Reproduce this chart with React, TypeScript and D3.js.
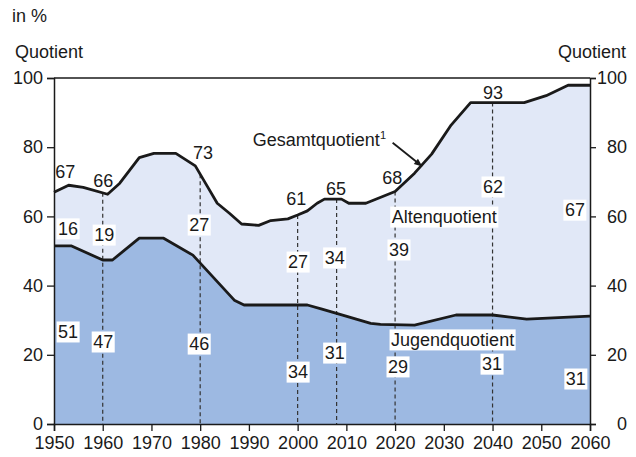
import * as d3 from "d3";
import React, { useEffect, useRef } from "react";

// Gesamtquotient (Altenquotient + Jugendquotient)
const totalYears = [1950, 1953, 1956, 1961, 1963.5, 1967.5, 1970.5, 1975, 1979, 1981.5, 1983.5, 1986, 1988.5, 1992, 1994.5, 1998, 2000, 2002, 2004, 2005.5, 2009, 2010.5, 2014, 2020, 2024, 2027.5, 2031.5, 2035.5, 2046.5, 2051, 2055.5, 2060];
const totalValues = [67, 69, 68.4, 66.4, 69.6, 77, 78.2, 78.2, 74.6, 68.6, 63.8, 60.9, 57.8, 57.4, 58.8, 59.3, 60.4, 61.6, 63.8, 65, 65, 63.8, 63.8, 67.2, 72.5, 78, 86.4, 92.9, 92.9, 94.9, 97.9, 97.9];

// Jugendquotient
const youngYears = [1950, 1953.5, 1960, 1962, 1967.5, 1972.5, 1978.5, 1987, 1989, 2002, 2005, 2008, 2015, 2017, 2024, 2032.5, 2040, 2047, 2060];
const youngValues = [51.5, 51.5, 47.4, 47.4, 53.7, 53.7, 48.8, 35.8, 34.4, 34.4, 33.2, 32, 29.1, 28.8, 28.6, 31.5, 31.5, 30.3, 31.2];

// marked years (dashed lines)
const markYears = [1960, 1980, 2000, 2008, 2020, 2040];

// value labels: text, year, level
const totalLabels = [["67", 1952.3, 72.8], ["66", 1960.1, 70.2], ["73", 1980.6, 78.3], ["61", 1999.7, 65], ["65", 2007.9, 67.9], ["68", 2019.4, 71.1], ["93", 2040.1, 95.7]];
const oldLabels = [["16", 1952.9, 56.4], ["19", 1960.3, 54.6], ["27", 1979.8, 57.5], ["27", 2000.1, 46.8], ["34", 2007.6, 48], ["39", 2020.8, 50.3], ["62", 2040.1, 68.5], ["67", 2056.9, 61.8]];
const youngLabels = [["51", 1952.9, 26.6], ["47", 1960.1, 23.7], ["46", 1979.8, 23.1], ["34", 2000.1, 15], ["31", 2007.6, 20.5], ["29", 2020.6, 16.5], ["31", 2039.9, 17.3], ["31", 2057.1, 13]];

const xTicks = [1950, 1960, 1970, 1980, 1990, 2000, 2010, 2020, 2030, 2040, 2050, 2060];
const yTicks = [0, 20, 40, 60, 80, 100];

const W = 636, H = 457;
const margin = { top: 78, right: 46, bottom: 33, left: 54 };
const FONT = "Liberation Sans, Arial, Helvetica, sans-serif";
const FS = 18;
const INK = "#1a1a1a";

export default function App() {
  const ref = useRef<SVGSVGElement>(null);

  useEffect(() => {
    const svg = d3.select(ref.current);
    svg.selectAll("*").remove();
    const w = W - margin.left - margin.right;
    const h = H - margin.top - margin.bottom;

    const x = d3.scaleLinear().domain([1950, 2060]).range([0, w]);
    const y = d3.scaleLinear().domain([0, 100]).range([h, 0]);

    const g = svg.append("g").attr("transform", `translate(${margin.left},${margin.top})`);

    const total = totalYears.map((d, i) => [d, totalValues[i]]);
    const young = youngYears.map((d, i) => [d, youngValues[i]]);

    const area = d3.area<number[]>().x(d => x(d[0])).y0(y(0)).y1(d => y(d[1]));
    const line = d3.line<number[]>().x(d => x(d[0])).y(d => y(d[1]));

    g.append("path").attr("d", area(total)).attr("fill", "#e1e8f7");
    g.append("path").attr("d", area(young)).attr("fill", "#9db9e2");

    // dashed lines up to total line
    const totalAt = (yr: number) => {
      const i = d3.bisectRight(totalYears, yr);
      const x0 = totalYears[i - 1], x1 = totalYears[i];
      const t = (yr - x0) / (x1 - x0);
      return totalValues[i - 1] + t * (totalValues[i] - totalValues[i - 1]);
    };
    g.selectAll(".mark").data(markYears).enter().append("line")
      .attr("x1", d => x(d)).attr("x2", d => x(d))
      .attr("y1", d => y(totalAt(d))).attr("y2", y(0))
      .attr("stroke", "#333").attr("stroke-width", 1.2).attr("stroke-dasharray", "4,3");

    g.append("path").attr("d", line(young)).attr("fill", "none").attr("stroke", INK).attr("stroke-width", 2.8).attr("stroke-linejoin", "round");
    g.append("path").attr("d", line(total)).attr("fill", "none").attr("stroke", INK).attr("stroke-width", 2.8).attr("stroke-linejoin", "round");

    // axes
    const left = g.append("g").call(d3.axisLeft(y).tickValues(yTicks).tickSize(7).tickPadding(4));
    const right = g.append("g").attr("transform", `translate(${w},0)`).call(d3.axisRight(y).tickValues(yTicks).tickSize(6).tickPadding(4));
    right.selectAll("text").attr("text-anchor", "end").attr("x", 37);
    const bottom = g.append("g").attr("transform", `translate(0,${h})`).call(d3.axisBottom(x).tickValues(xTicks).tickFormat(d3.format("d")).tickSize(7).tickPadding(5));
    [left, right, bottom].forEach(a => {
      a.selectAll("text").attr("font-size", FS).attr("font-family", FONT).attr("fill", INK);
      a.selectAll("line").attr("stroke", INK).attr("stroke-width", 1.3);
      a.select(".domain").attr("stroke", INK).attr("stroke-width", 1.5);
    });
    g.append("line").attr("x1", 0).attr("x2", w).attr("y1", 0).attr("y2", 0).attr("stroke", INK).attr("stroke-width", 1.5);

    // value labels
    const addLabel = (txt: string, cx: number, cy: number, boxed: boolean, anchor = "middle") => {
      const grp = g.append("g");
      const t = grp.append("text").attr("x", cx).attr("y", cy).attr("dy", "0.35em")
        .attr("text-anchor", anchor).attr("font-size", FS).attr("font-family", FONT).attr("fill", INK).text(txt);
      if (boxed) {
        const b = (t.node() as SVGTextElement).getBBox();
        grp.insert("rect", "text").attr("x", b.x - 1.5).attr("y", cy - 10.5).attr("width", b.width + 3).attr("height", 21).attr("fill", "#fff");
      }
    };
    totalLabels.forEach(d => addLabel(d[0] as string, x(d[1] as number), y(d[2] as number), false));
    oldLabels.forEach(d => addLabel(d[0] as string, x(d[1] as number), y(d[2] as number), true));
    youngLabels.forEach(d => addLabel(d[0] as string, x(d[1] as number), y(d[2] as number), true));

    addLabel("Altenquotient", x(2030.1), y(59.8), true);
    addLabel("Jugendquotient", x(2031.8), y(24.3), true);

    // Gesamtquotient label with arrow
    const gt = g.append("text").attr("x", x(1990.8)).attr("y", y(82.3)).attr("dy", "0.35em")
      .attr("text-anchor", "start").attr("font-size", FS).attr("font-family", FONT).attr("fill", INK);
    gt.append("tspan").text("Gesamtquotient");
    gt.append("tspan").attr("font-size", 11).attr("dy", "-0.6em").text("1");

    const ax0 = x(2019.5), ay0 = y(81.3), ax1 = x(2025.6), ay1 = y(74.4);
    const ang = Math.atan2(ay1 - ay0, ax1 - ax0);
    g.append("line").attr("x1", ax0).attr("y1", ay0).attr("x2", ax1 - 6 * Math.cos(ang)).attr("y2", ay1 - 6 * Math.sin(ang))
      .attr("stroke", INK).attr("stroke-width", 1.8);
    const head = [[ax1, ay1], [ax1 - 9 * Math.cos(ang - 0.38), ay1 - 9 * Math.sin(ang - 0.38)], [ax1 - 9 * Math.cos(ang + 0.38), ay1 - 9 * Math.sin(ang + 0.38)]];
    g.append("path").attr("d", "M" + head.map(p => p.join(",")).join("L") + "Z").attr("fill", INK);

    // titles
    svg.append("text").attr("x", 12).attr("y", 22).attr("font-size", FS).attr("font-family", FONT).attr("fill", INK).text("in %");
    svg.append("text").attr("x", 15).attr("y", 58).attr("font-size", FS).attr("font-family", FONT).attr("fill", INK).text("Quotient");
    svg.append("text").attr("x", 626).attr("y", 58).attr("text-anchor", "end").attr("font-size", FS).attr("font-family", FONT).attr("fill", INK).text("Quotient");
  }, []);

  return (
    <svg ref={ref} width={W} height={H} style={{ position: "absolute", left: 0, top: 0, background: "#fff" }} />
  );
}
